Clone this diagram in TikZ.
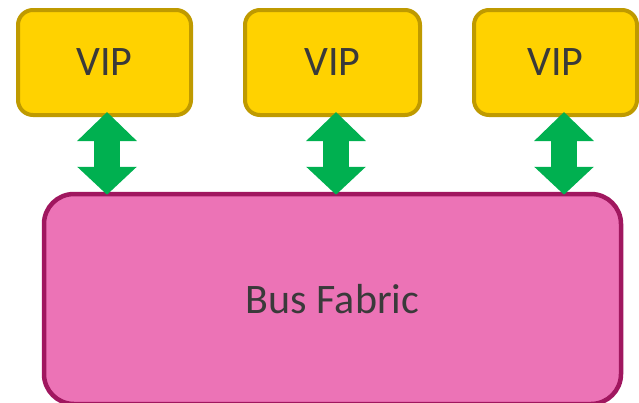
\documentclass[tikz,border=0pt]{standalone}
\usepackage{fontspec}
\setmainfont{Carlito}
\usetikzlibrary{arrows.meta}
\definecolor{vipfill}{HTML}{FFD200}
\definecolor{vipline}{HTML}{BF9A00}
\definecolor{busfill}{HTML}{EC73B6}
\definecolor{busline}{HTML}{A0175F}
\definecolor{linkgreen}{HTML}{00B050}
\definecolor{txtgray}{HTML}{3A3A3A}

\begin{document}
\begin{tikzpicture}[x=1pt, y=-1pt]
\tikzstyle{box}=[draw, text=txtgray, inner sep=0pt, font=\fontsize{42}{50}\selectfont];
\tikzstyle{vip}=[box, draw=vipline, fill=vipfill, line width=4pt, rounded corners=15pt, minimum height=105pt];
\tikzstyle{bus}=[box, draw=busline, fill=busfill, line width=4.5pt, rounded corners=30pt];
\tikzstyle{link}=[draw=linkgreen, fill=linkgreen, line width=26pt,
  {Triangle[length=29pt,width=58pt]}-{Triangle[length=28pt,width=58pt]},
  shorten <=-5pt, shorten >=-3pt];
\useasboundingbox (0,0) rectangle (639,402);
\node[bus, minimum width=577pt, minimum height=210pt] (bus) at (332.5,299) {Bus Fabric};
\node[vip, minimum width=173pt] (vip1) at (104.5,62.5) {VIP};
\node[vip, minimum width=175pt] (vip2) at (332.5,62.5) {VIP};
\node[vip, minimum width=163pt] (vip3) at (555.5,62.5) {VIP};
\foreach \v/\dx in {vip1/2.5, vip2/3.5, vip3/8.5}
{
\coordinate (t\v) at ([xshift=\dx pt]\v.south);
\draw[link] (t\v) -- (t\v |- bus.north);
}
\end{tikzpicture}
\end{document}
